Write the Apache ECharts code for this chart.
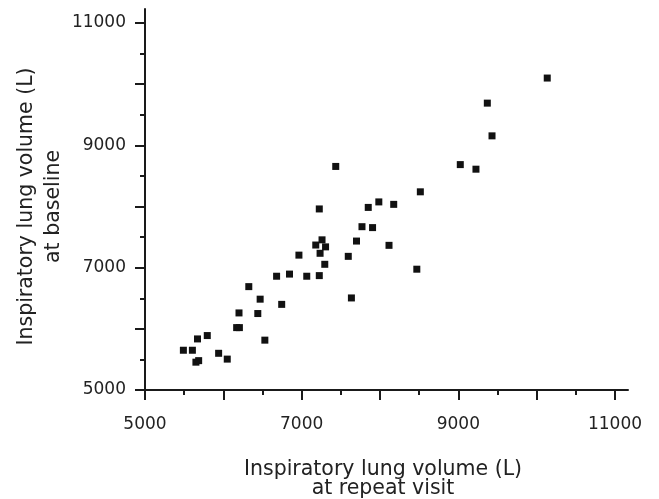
<!DOCTYPE html>
<html>
<head>
<meta charset="utf-8">
<script src="https://cdn.jsdelivr.net/npm/echarts@6/dist/echarts.min.js"></script>
<style>
  html, body { margin: 0; padding: 0; background: #fff; }
  #cv { width: 659px; height: 499px; }
</style>
</head>
<body>
<div id="cv"></div>
<script>
    // repeat visit (x) vs baseline (y)
    var repeatVisit = [5490, 5605, 5670, 5650, 5685, 5795, 5940, 6050, 6170, 6205,
        6200, 6325, 6440, 6470, 6530, 6680, 6745, 6845, 6965, 7065,
        7180, 7260, 7305, 7235, 7225, 7295, 7225, 7435, 7595, 7635,
        7700, 7770, 7850, 7905, 7985, 8115, 8175, 8470, 8515, 9025,
        9225, 9370, 9430, 10135];
    var baseline = [5650, 5650, 5835, 5455, 5480, 5890, 5600, 5505, 6020, 6020,
        6260, 6690, 6250, 6485, 5815, 6860, 6400, 6895, 7205, 6860,
        7370, 7455, 7340, 7235, 6870, 7055, 7960, 8655, 7185, 6505,
        7435, 7670, 7985, 7655, 8075, 7365, 8035, 6975, 8240, 8685,
        8610, 9690, 9155, 10100];
    var tickLabels = ['5000', '7000', '9000', '11000'];

    var points = [];
    for (var i = 0; i < repeatVisit.length; i++) {
        points.push([repeatVisit[i], baseline[i]]);
    }

    var ink = '#1a1a1a';
    var font = 'DejaVu Sans';

    function labelFmt(v) {
        return tickLabels.indexOf(String(v)) >= 0 ? String(v) : '';
    }

    var myChart = echarts.init(document.getElementById('cv'));
    var option = {
        backgroundColor: '#fff',
        animation: false,
        grid: [
            { left: 145, right: 44, top: 23, bottom: 109, outerBoundsMode: 'none' },
            // only carries the axis lines, which run a bit past 11000
            { left: 145, right: 31, top: 9, bottom: 109, outerBoundsMode: 'none' }
        ],
        xAxis: [{
            gridIndex: 0,
            type: 'value',
            min: 5000,
            max: 11000,
            interval: 1000,
            splitLine: { show: false },
            axisLine: { show: true, onZero: false, lineStyle: { color: ink, width: 2 } },
            axisTick: { show: true, inside: false, length: 10, lineStyle: { color: ink, width: 2 } },
            minorTick: { show: true, splitNumber: 2, length: 5, lineStyle: { color: ink, width: 2 } },
            axisLabel: { formatter: labelFmt, margin: 26, color: '#222', fontFamily: font, fontSize: 17 },
            name: 'Inspiratory lung volume (L)\nat repeat visit',
            nameLocation: 'middle',
            nameGap: 70,
            nameMoveOverlap: false,
            nameTextStyle: { color: '#222', fontFamily: font, fontSize: 20.5, lineHeight: 19, padding: [0, 0, 0, 6] }
        }, {
            gridIndex: 1,
            type: 'value',
            min: 0,
            max: 1,
            axisLine: { show: true, onZero: false, lineStyle: { color: ink, width: 2 } },
            axisTick: { show: false },
            axisLabel: { show: false },
            splitLine: { show: false }
        }],
        yAxis: [{
            gridIndex: 0,
            type: 'value',
            min: 5000,
            max: 11000,
            interval: 1000,
            splitLine: { show: false },
            axisLine: { show: true, onZero: false, lineStyle: { color: ink, width: 2 } },
            axisTick: { show: true, inside: false, length: 10, lineStyle: { color: ink, width: 2 } },
            minorTick: { show: true, splitNumber: 2, length: 5, lineStyle: { color: ink, width: 2 } },
            axisLabel: { formatter: labelFmt, margin: 19, color: '#222', fontFamily: font, fontSize: 17 },
            name: 'Inspiratory lung volume (L)\nat baseline',
            nameLocation: 'middle',
            nameRotate: 90,
            nameGap: 78,
            nameMoveOverlap: false,
            nameTextStyle: { color: '#222', fontFamily: font, fontSize: 20.5, lineHeight: 27 }
        }, {
            gridIndex: 1,
            type: 'value',
            min: 0,
            max: 1,
            axisLine: { show: true, onZero: false, lineStyle: { color: ink, width: 2 } },
            axisTick: { show: false },
            axisLabel: { show: false },
            splitLine: { show: false }
        }],
        series: [{
            name: 'volume',
            type: 'scatter',
            xAxisIndex: 0,
            yAxisIndex: 0,
            symbol: 'rect',
            symbolSize: 7,
            itemStyle: { color: '#111', opacity: 1 },
            data: points
        }]
    };
    myChart.setOption(option);

    window.addEventListener('resize', function() {
        if (myChart != null && myChart != undefined) {
            myChart.resize();
        }
    });
</script>
</body>
</html>
